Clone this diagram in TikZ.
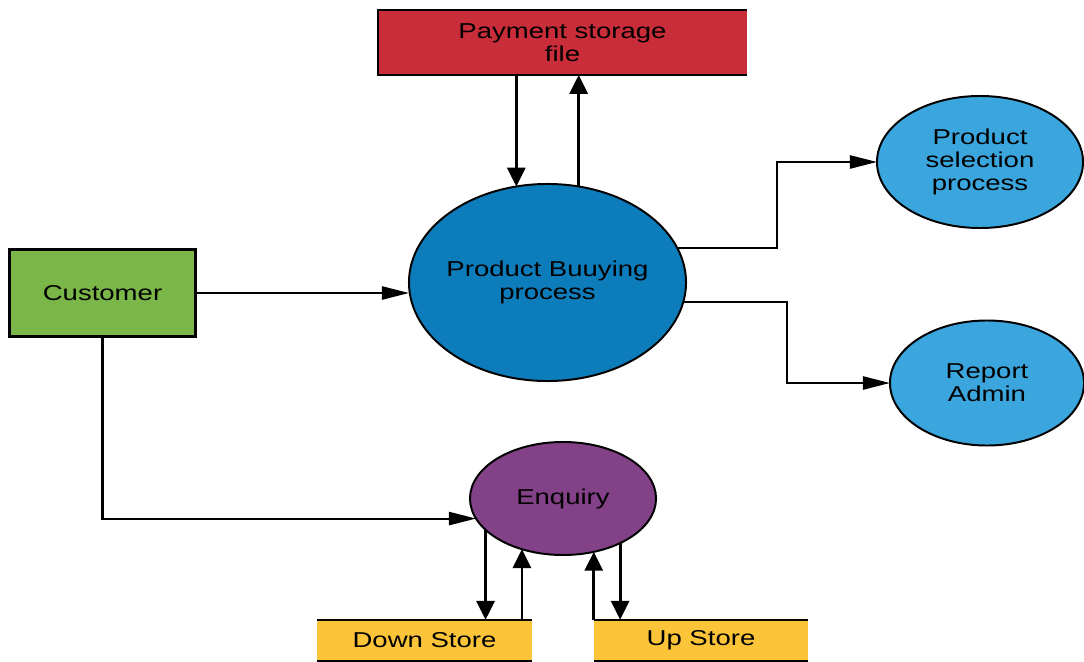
\documentclass[tikz,border=0pt]{standalone}
\usepackage{fontspec}
\setmainfont[FakeStretch=1.28]{Liberation Sans}
\usetikzlibrary{shapes.geometric,arrows.meta}
\definecolor{payred}{HTML}{C92D39}
\definecolor{buyblue}{HTML}{0C7CBA}
\definecolor{procblue}{HTML}{3AA6DD}
\definecolor{custgreen}{HTML}{7AB648}
\definecolor{enqpurple}{HTML}{834187}
\definecolor{storeyellow}{HTML}{FCC438}

\begin{document}
\begin{tikzpicture}[x=0.025cm, y=-0.025cm,
  every node/.style={font=\fontsize{15.3}{16.6}\selectfont, align=center, inner sep=0pt, outer sep=0pt},
  proc/.style={ellipse, draw, line width=1.4pt},
  flow/.style={line width=1.5pt, -{Triangle[length=0.68cm, width=0.33cm]}},
  vflow/.style={line width=2pt, -{Triangle[length=0.47cm, width=0.45cm]}}]
\useasboundingbox (0,0) rectangle (1084,662);
% stores and external entity
\node [fill=payred, minimum width=9.225cm, minimum height=1.625cm] (pay) at (562.5,42.5) {Payment storage\\file};
\draw [line width=1.4pt] (pay.north east) -- (pay.north west) -- (pay.south west) -- (pay.south east);
\node [draw, line width=1.8pt, fill=custgreen, minimum width=4.65cm, minimum height=2.175cm] (cust) at (102.5,293) {Customer};
\node [fill=storeyellow, minimum width=5.375cm, minimum height=1.0375cm] (down) at (424.5,640.5) {Down Store};
\node [fill=storeyellow, minimum width=5.35cm, minimum height=1.0375cm] (up) at (701,640.5) {Up Store};
\draw [line width=1.2pt] (down.north west) -- (down.north east) (down.south west) -- (down.south east);
\draw [line width=1.2pt] (up.north west) -- (up.north east) (up.south west) -- (up.south east);
% processes
\node [proc, fill=buyblue, inner xsep=-0.5cm, minimum width=6.925cm, minimum height=4.925cm] (buy) at (547.5,282.5) {Product Buuying\\process};
\node [proc, fill=procblue, minimum width=5.15cm, minimum height=3.3cm] (sel) at (980,162) {Product\\selection\\process};
\node [proc, fill=procblue, minimum width=4.85cm, minimum height=3.125cm] (rep) at (987,383) {Report\\Admin};
\node [proc, fill=enqpurple, minimum width=4.65cm, minimum height=2.825cm] (enq) at (563,498.5) {Enquiry};
% flows
\draw [vflow] (buy.108 |- pay.south) -- (buy.108);
\draw [vflow] (buy.72) -- (buy.72 |- pay.south);
\draw [flow] (cust.east) -- (cust.east -| buy.west);
\draw [flow] (cust.south) |- (enq.193);
\draw [flow] (buy.15) -- ++(100,0) |- (sel.west);
\draw [flow] (buy.352) -- ++(104,0) |- (rep.west);
\draw [vflow] (enq.202) -- (enq.202 |- down.north);
\draw [vflow] (enq.231 |- down.north) -- (enq.231);
\draw [vflow] (enq.300 |- up.north) -- (enq.300);
\draw [vflow] (enq.322) -- (enq.322 |- up.north);
\end{tikzpicture}
\end{document}
